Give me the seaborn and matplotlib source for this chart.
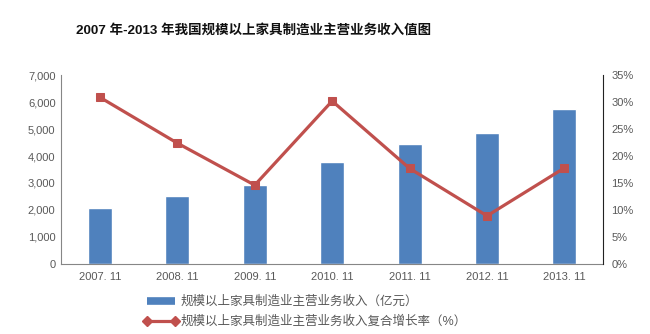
import matplotlib
matplotlib.use("Agg")
import matplotlib.pyplot as plt
import seaborn as sns
import pandas as pd
from matplotlib.lines import Line2D

years = ["2007. 11", "2008. 11", "2009. 11", "2010. 11", "2011. 11", "2012. 11", "2013. 11"]
revenue = [2070, 2520, 2910, 3780, 4440, 4850, 5730]
growth = [30.9, 22.4, 14.6, 30.2, 17.7, 8.9, 17.8]
left_ticks = [0, 1000, 2000, 3000, 4000, 5000, 6000, 7000]
right_ticks = [0, 5, 10, 15, 20, 25, 30, 35]
title = "2007 年-2013 年我国规模以上家具制造业主营业务收入值图"
bar_label = "规模以上家具制造业主营业务收入（亿元）"
line_label = "规模以上家具制造业主营业务收入复合增长率（%）"

sns.set_style("white")
plt.rcParams['font.family'] = ['Liberation Sans', 'Noto Sans CJK SC', 'DejaVu Sans']

df = pd.DataFrame({"year": years, "revenue": revenue, "growth": growth})

fig = plt.figure(figsize=(6.5, 3.34), dpi=100)
ax = fig.add_axes([0.094, 0.21, 0.834, 0.565])

bar_color = "#4F81BD"
line_color = "#C0504D"
tick_color = "#595959"

sns.barplot(data=df, x="year", y="revenue", color=bar_color, width=0.31,
            saturation=1, ax=ax)
ax.set_ylim(0, 7000)
ax.set_yticks(left_ticks)
ax.set_yticklabels([f"{v:,}" for v in left_ticks])
ax.set_xlabel("")
ax.set_ylabel("")
ax.set_xlim(-0.5, 6.5)

ax2 = ax.twinx()
sns.lineplot(data=df, x=list(range(len(years))), y="growth", color=line_color,
             linewidth=2.3, marker="s", markersize=6, markeredgecolor=line_color,
             ax=ax2)
ax2.set_ylim(0, 35)
ax2.set_yticks(right_ticks)
ax2.set_yticklabels([f"{v}%" for v in right_ticks])
ax2.set_ylabel("")
ax2.set_xlim(-0.5, 6.5)

for a in (ax, ax2):
    a.tick_params(axis="both", length=0, labelsize=8, labelcolor=tick_color, pad=4)
    a.spines["top"].set_visible(False)
ax.spines["left"].set_color("#868686")
ax.spines["bottom"].set_color("#868686")
ax.spines["right"].set_visible(False)
ax2.spines["left"].set_visible(False)
ax2.spines["bottom"].set_visible(False)
ax2.spines["right"].set_color("#222222")
ax.tick_params(axis="x", pad=6)
ax2.tick_params(axis="y", pad=6)

fig.text(254/650, 1 - 30/334, title, ha="center", va="center",
         fontsize=9.7, fontweight="bold", color="#111111")

handles = [Line2D([0], [0], color=bar_color, linewidth=5.5, solid_capstyle="butt"),
           Line2D([0], [0], color=line_color, linewidth=2.3, marker="D", markersize=5)]
fig.legend(handles, [bar_label, line_label], loc="center left",
           bbox_to_anchor=(137/650, 1 - 312/334), ncol=1, frameon=False,
           fontsize=9, labelcolor=tick_color, handlelength=2.8, numpoints=2,
           handletextpad=0.2, labelspacing=0.6, borderpad=0)

fig.savefig("out.png", dpi=100)
